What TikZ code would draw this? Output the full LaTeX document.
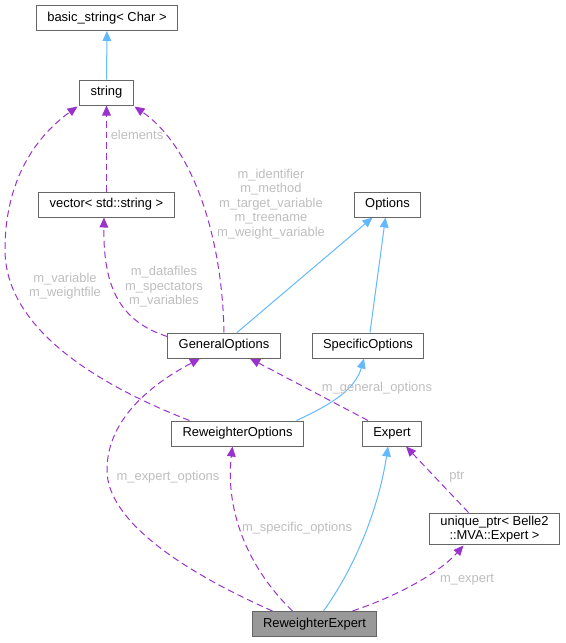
\documentclass[tikz,border=0pt]{standalone}
\usepackage{fontspec}
\setmainfont{Liberation Sans}
\usetikzlibrary{arrows.meta}
\definecolor{edgeBlue}{HTML}{63B8FF}
\definecolor{edgePurple}{HTML}{9A32CD}
\definecolor{labelGrey}{HTML}{BEBEBE}
\definecolor{boxBorder}{HTML}{666666}
\definecolor{focusFill}{HTML}{999999}
\tikzset{
    CLASS_BOX/.style={draw=boxBorder, fill=white, shape=rectangle, line width=0.75pt,
        inner xsep=8.2pt, inner ysep=2pt, minimum height=18.75pt,
        font={\fontsize{9.7}{10.9}\selectfont}, align=center},
    FOCUS_BOX/.style={CLASS_BOX, fill=focusFill},
    EDGE_LABEL/.style={inner sep=0pt, text=labelGrey, align=center,
        font={\fontsize{9.7}{10.9}\selectfont}},
    BLUE_EDGE/.style={draw=edgeBlue, line width=0.75pt,
        -{Triangle[length=7.5pt, width=6.5pt]}},
    PURPLE_DASHED_EDGE/.style={draw=edgePurple, line width=0.75pt, dash pattern=on 5pt off 3pt,
        -{Triangle[length=7.5pt, width=6.5pt]}}
}
\pgfdeclarelayer{edgelayer}
\pgfdeclarelayer{nodelayer}
\pgfsetlayers{edgelayer,nodelayer,main}

\begin{document}
\begin{tikzpicture}[x=0.75pt, y=-0.75pt]
    \useasboundingbox (0,0) rectangle (566,643);
    \begin{pgfonlayer}{nodelayer}
        \node [CLASS_BOX] (basicstring) at (107,18) {basic\_string< Char >};
        \node [CLASS_BOX] (string) at (106.5,92.5) {string};
        \node [CLASS_BOX] (vector) at (106.5,204.5) {vector< std::string >};
        \node [CLASS_BOX] (options) at (387.5,204.5) {Options};
        \node [CLASS_BOX] (generaloptions) at (224,345.5) {GeneralOptions};
        \node [CLASS_BOX] (specificoptions) at (368,345.5) {SpecificOptions};
        \node [CLASS_BOX] (reweighteroptions) at (237.5,433.5) {ReweighterOptions};
        \node [CLASS_BOX] (expert) at (392,433.5) {Expert};
        \node [CLASS_BOX] (uniqueptr) at (494.5,529) {unique\_ptr< Belle2\\::MVA::Expert >};
        \node [FOCUS_BOX] (reweighterexpert) at (314.5,624) {ReweighterExpert};
        \node [EDGE_LABEL] (l_elements) at (137,135) {elements};
        \node [EDGE_LABEL] (l_general) at (271,204) {m\_identifier\\m\_method\\m\_target\_variable\\m\_treename\\m\_weight\_variable};
        \node [EDGE_LABEL] (l_variable) at (65,286) {m\_variable\\m\_weightfile};
        \node [EDGE_LABEL] (l_datafiles) at (164,287) {m\_datafiles\\m\_spectators\\m\_variables};
        \node [EDGE_LABEL] (l_generaloptions) at (377,388) {m\_general\_options};
        \node [EDGE_LABEL] (l_expertoptions) at (168,477) {m\_expert\_options};
        \node [EDGE_LABEL] (l_specificoptions) at (297,528) {m\_specific\_options};
        \node [EDGE_LABEL] (l_ptr) at (457,477) {ptr};
        \node [EDGE_LABEL] (l_expert) at (467,580) {m\_expert};
    \end{pgfonlayer}
    \begin{pgfonlayer}{edgelayer}
        \draw[BLUE_EDGE] (string) to (basicstring);
        \draw[PURPLE_DASHED_EDGE] (vector) to (string);
        \draw[PURPLE_DASHED_EDGE] (generaloptions.north) .. controls (222,230) and (190,145) .. ([shift={(28,1)}]string.south);
        \draw[PURPLE_DASHED_EDGE] ([shift={(-48,0)}]reweighteroptions.north) .. controls (60,370) and (5,310) .. (5,250)
            .. controls (5,170) and (45,130) .. ([shift={(-29,1)}]string.south);
        \draw[PURPLE_DASHED_EDGE] ([shift={(0,-9)}]generaloptions.west) .. controls (122,322) and (103,290) .. ([shift={(-2.5,0)}]vector.south);
        \draw[BLUE_EDGE] ([shift={(13,0)}]generaloptions.north) to ([shift={(-15,0)}]options.south);
        \draw[BLUE_EDGE] ([shift={(2,0)}]specificoptions.north) to ([shift={(-2,0)}]options.south);
        \draw[BLUE_EDGE] ([shift={(59,0)}]reweighteroptions.north) .. controls (330,405) and (355,390) .. ([shift={(-4,0)}]specificoptions.south);
        \draw[PURPLE_DASHED_EDGE] ([shift={(-24,0)}]expert.north) to ([shift={(26,0)}]generaloptions.south);
        \draw[PURPLE_DASHED_EDGE] ([shift={(-42,0)}]reweighterexpert.north) .. controls (180,570) and (107,520) .. (107,470)
            .. controls (107,420) and (150,385) .. ([shift={(-24,0)}]generaloptions.south);
        \draw[PURPLE_DASHED_EDGE] ([shift={(-22,0)}]reweighterexpert.north) .. controls (240,560) and (226,500) .. ([shift={(-5,0)}]reweighteroptions.south);
        \draw[BLUE_EDGE] ([shift={(9,0)}]reweighterexpert.north) .. controls (360,560) and (380,500) .. ([shift={(-4,0)}]expert.south);
        \draw[PURPLE_DASHED_EDGE] ([shift={(38,0)}]reweighterexpert.north) .. controls (400,595) and (440,572) .. ([shift={(-31,0)}]uniqueptr.south);
        \draw[PURPLE_DASHED_EDGE] ([shift={(-26,0)}]uniqueptr.north) to ([shift={(14,0)}]expert.south);
    \end{pgfonlayer}
\end{tikzpicture}
\end{document}
